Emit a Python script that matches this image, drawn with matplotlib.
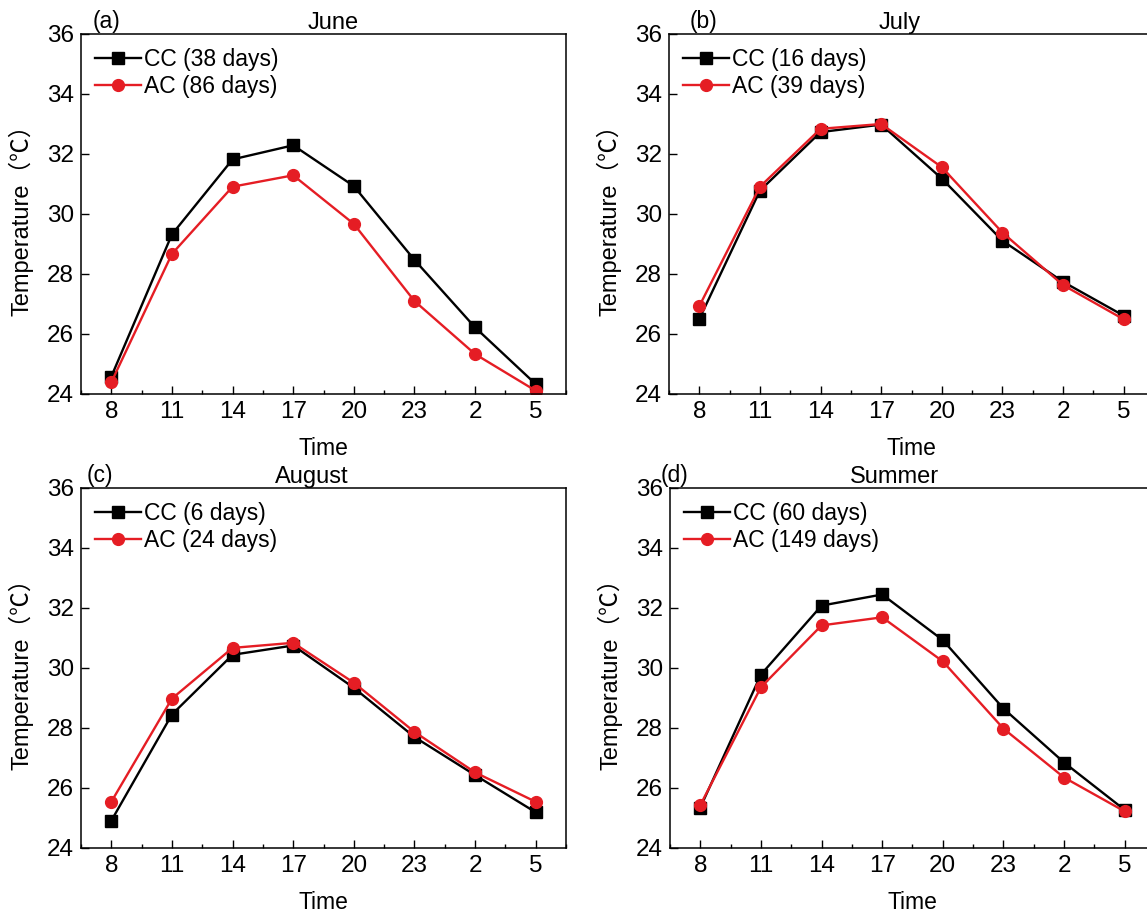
import matplotlib
matplotlib.use("Agg")
import matplotlib.pyplot as plt
from matplotlib.ticker import MultipleLocator

plt.rcParams["font.family"] = ["Liberation Sans", "Noto Sans CJK SC", "DejaVu Sans"]
plt.rcParams["font.size"] = 16

# x categories: hour of day, 8 am to 5 am next day
HOURS = ["8", "11", "14", "17", "20", "23", "2", "5"]

PANELS = ["(a)", "(b)", "(c)", "(d)"]
TITLES = ["June", "July", "August", "Summer"]
CC_DAYS = [38, 16, 6, 60]
AC_DAYS = [86, 39, 24, 149]

cc_june = [24.58, 29.32, 31.82, 32.29, 30.93, 28.47, 26.22, 24.33]
ac_june = [24.39, 28.67, 30.91, 31.29, 29.67, 27.10, 25.33, 24.11]
cc_july = [26.50, 30.78, 32.73, 32.98, 31.18, 29.11, 27.74, 26.61]
ac_july = [26.93, 30.91, 32.84, 33.00, 31.56, 29.38, 27.63, 26.49]
cc_aug = [24.91, 28.45, 30.44, 30.75, 29.34, 27.70, 26.43, 25.19]
ac_aug = [25.54, 28.98, 30.67, 30.84, 29.51, 27.87, 26.52, 25.54]
cc_summer = [25.35, 29.78, 32.08, 32.45, 30.93, 28.65, 26.85, 25.27]
ac_summer = [25.43, 29.36, 31.42, 31.69, 30.22, 27.98, 26.35, 25.22]

CC = [cc_june, cc_july, cc_aug, cc_summer]
AC = [ac_june, ac_july, ac_aug, ac_summer]

RED = "#e51d24"

W, H = 1147, 919
fig = plt.figure(figsize=(W / 100, H / 100), dpi=100)

# axes boxes in pixels (left, top); right panels run past the image edge
AX_W, AX_H = 485, 360
boxes = [(81, 34), (669, 34), (81, 488), (670, 488)]
tag_dx = [12, 21, 6, -9]            # panel letter offset from left spine, px
title_x = [0.52, 0.476, 0.476, 0.462]  # title centres, axes fraction

x = list(range(len(HOURS)))
for i, (left, top) in enumerate(boxes):
    ax = fig.add_axes([left / W, 1 - (top + AX_H) / H, AX_W / W, AX_H / H])
    ax.plot(x, CC[i], color="black", lw=1.7, marker="s", ms=8,
            label=f"CC ({CC_DAYS[i]} days)")
    ax.plot(x, AC[i], color=RED, lw=1.7, marker="o", ms=8.5,
            label=f"AC ({AC_DAYS[i]} days)")
    ax.set_xlim(-0.5, 7.5)
    ax.set_ylim(24, 36)
    ax.set_xticks(x)
    ax.set_xticklabels(HOURS)
    ax.xaxis.set_minor_locator(MultipleLocator(0.5))
    ax.yaxis.set_major_locator(MultipleLocator(2))
    ax.tick_params(which="major", direction="in", length=6, width=1,
                   labelsize=17.5, pad=5)
    ax.tick_params(axis="x", which="minor", direction="in", length=3, width=1)
    for s in ax.spines.values():
        s.set_linewidth(1.1)
    ax.set_xlabel("Time", fontsize=16.5, labelpad=10)
    ax.set_ylabel("Temperature（℃）", fontsize=17)
    ax.yaxis.set_label_coords(-0.097, 0.5)
    ax.set_title(TITLES[i], fontsize=17, pad=3, x=title_x[i])
    ax.text(tag_dx[i] / AX_W, 1.003, PANELS[i], transform=ax.transAxes,
            fontsize=16.5, ha="left", va="bottom")
    ax.legend(loc="upper left", frameon=False, fontsize=16.5, handlelength=2.0,
              handletextpad=0.15, labelspacing=0.2, borderaxespad=0.3,
              borderpad=0.3)

fig.savefig("out.png", dpi=100)
